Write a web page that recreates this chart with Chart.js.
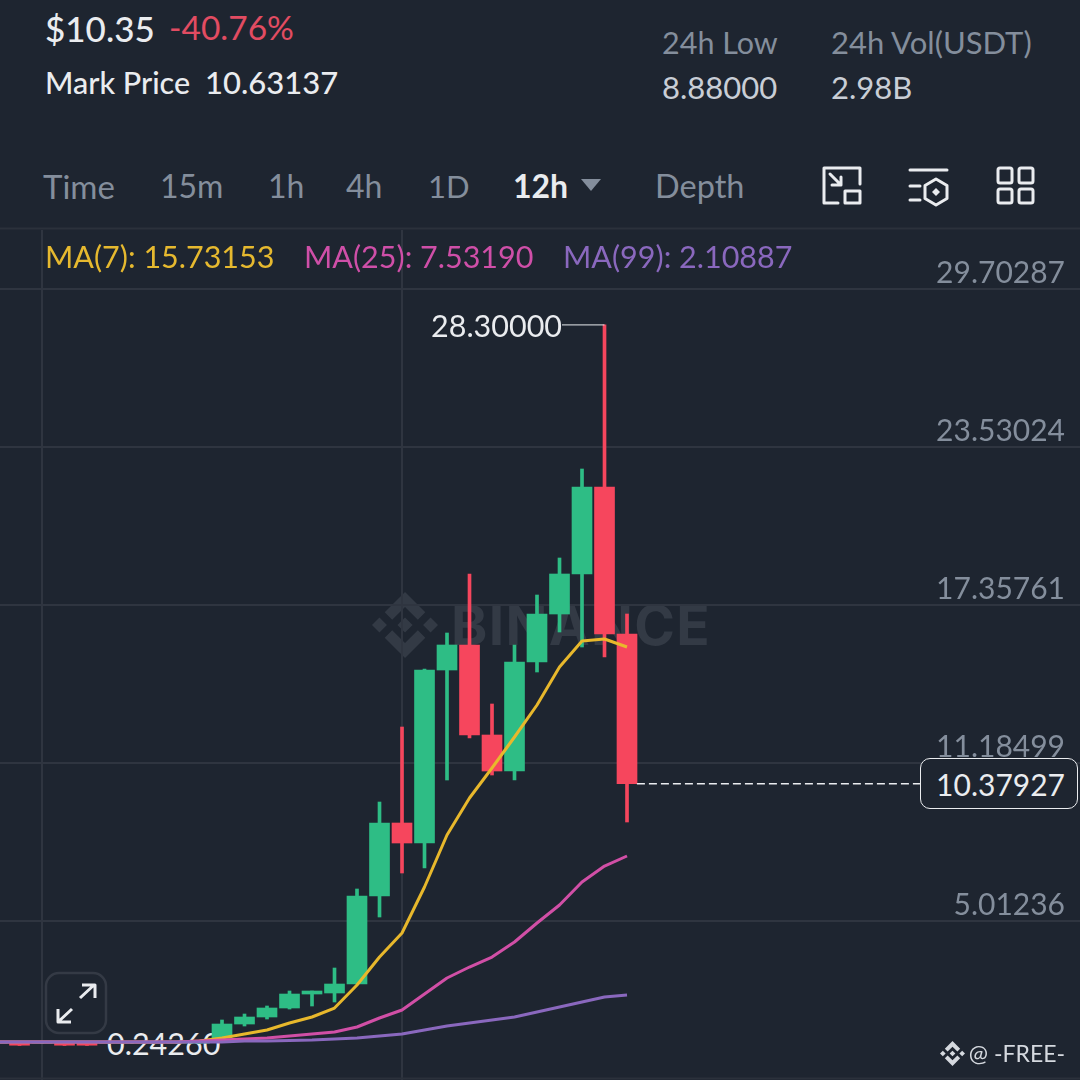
<!DOCTYPE html>
<html><head><meta charset="utf-8">
<script src="https://cdn.jsdelivr.net/npm/chart.js@4"></script>
<style>
html,body{margin:0;padding:0;background:#1E2530;width:1080px;height:1080px;overflow:hidden;font-family:Lato,sans-serif}
.t{position:absolute;white-space:nowrap;transform:translateY(-50%);line-height:1}
svg{position:absolute;overflow:visible}
#wrap{position:absolute;left:0;top:230px;width:1080px;height:850px}
</style></head><body>
<div class="t" style="left:45px;top:28px;font-size:35px;font-weight:500;color:#EAECEF">$10.35</div>
<div class="t" style="left:169px;top:28px;font-size:33.500px;color:#E24C62">-40.76%</div>
<div class="t" style="left:45px;top:82px;font-size:30.500px;font-weight:500;color:#EAECEF">Mark Price</div>
<div class="t" style="left:205px;top:82px;font-size:31px;font-weight:500;color:#EAECEF">10.63137</div>
<div class="t" style="left:662px;top:42px;font-size:30.500px;color:#848E9C">24h Low</div>
<div class="t" style="left:662px;top:87px;font-size:31px;color:#C9CED6">8.88000</div>
<div class="t" style="left:831px;top:42px;font-size:31px;color:#848E9C">24h Vol(USDT)</div>
<div class="t" style="left:831px;top:87px;font-size:31px;color:#C9CED6">2.98B</div>
<div class="t" style="left:43px;top:186px;font-size:33px;color:#848E9C">Time</div>
<div class="t" style="left:160px;top:186px;font-size:32px;color:#848E9C">15m</div>
<div class="t" style="left:268px;top:186px;font-size:32px;color:#848E9C">1h</div>
<div class="t" style="left:346px;top:186px;font-size:32px;color:#848E9C">4h</div>
<div class="t" style="left:428px;top:186px;font-size:31px;color:#848E9C">1D</div>
<div class="t" style="left:513px;top:186px;font-size:32px;font-weight:700;color:#EAECEF">12h</div>
<svg style="left:0;top:0" width="1080" height="230"><path d="M581 179h20l-10 12z" fill="#848E9C"/>
<g fill="none" stroke="#EAECEF" stroke-width="3" stroke-linecap="round" stroke-linejoin="round">
<path d="M860 184V168H824V203H838"/><rect x="845" y="191" width="15" height="12"/><path d="M830 174L841 185M841 177V185H832"/>
<path d="M910 170H947M910 186H920M910 200H920"/><path d="M936 179L947 185.500V198.500L936 205L925 198.500V185.500Z"/>
<rect x="998" y="168" width="14" height="15" rx="2"/><rect x="1019" y="168" width="14" height="15" rx="2"/><rect x="998" y="189" width="14" height="14" rx="2"/><rect x="1019" y="189" width="14" height="14" rx="2"/>
</g><path d="M936 188L940 192L936 196L932 192Z" fill="#EAECEF"/></svg>
<div class="t" style="left:655px;top:186px;font-size:32.500px;color:#848E9C">Depth</div>
<svg style="left:372px;top:592px" width="66" height="66" viewBox="0 0 126.610 126.610"><path fill="#333A45" d="M38.730 53.200l24.590-24.580 24.600 24.600 14.300-14.310L63.320 0 24.430 38.900l14.300 14.300zM0 63.310l14.300-14.310 14.310 14.310-14.310 14.300zM38.730 73.410l24.590 24.590 24.600-24.600 14.310 14.290-38.900 38.910-38.910-38.880-.02-.02zM98 63.310l14.300-14.310 14.310 14.300-14.310 14.320zM77.830 63.300L63.320 48.780 52.590 59.510l-1.240 1.230-2.540 2.540 14.510 14.500 14.510-14.470z"/></svg>
<div class="t" style="left:451px;top:625px;font-family:Inter;font-size:55px;font-weight:700;letter-spacing:1.300px;color:#333A45">BINANCE</div>
<div class="t" style="left:107px;top:1043px;font-size:30.500px;color:#EAECEF">0.24260</div>
<div id="wrap"><canvas id="c" width="1080" height="850"></canvas></div>
<div class="t" style="left:45px;top:256px;font-size:30.500px;color:#E6B92F">MA(7): 15.73153</div>
<div class="t" style="left:304px;top:256px;font-size:30.500px;color:#CF4FA8">MA(25): 7.53190</div>
<div class="t" style="left:563px;top:256px;font-size:30.500px;color:#8A68BE">MA(99): 2.10887</div>
<div class="t" style="left:431px;top:325px;font-size:30.500px;color:#EAECEF">28.30000</div>
<div style="position:absolute;left:920px;top:758px;width:156px;height:49px;border:1.500px solid #EAECEF;border-radius:10px;background:#1E2530"></div>
<div class="t" style="right:15px;top:784px;font-size:30px;color:#EAECEF">10.37927</div>
<svg style="left:45px;top:972px" width="62" height="62"><rect x="1" y="1" width="60" height="60" rx="13" fill="#1E2530" stroke="#343A45" stroke-width="2.500"/><g fill="none" stroke="#EAECEF" stroke-width="3" stroke-linejoin="round"><path d="M35 26L49 13M37 13H50V26M13 50L27 37M13 37V50H26"/></g></svg>
<svg style="left:940px;top:1041px" width="25" height="25" viewBox="0 0 126.610 126.610"><path fill="#D5D9DF" d="M38.730 53.200l24.590-24.580 24.600 24.600 14.300-14.310L63.320 0 24.430 38.900l14.300 14.300zM0 63.310l14.300-14.310 14.310 14.310-14.310 14.300zM38.730 73.410l24.590 24.590 24.600-24.600 14.310 14.290-38.900 38.910-38.910-38.880-.02-.02zM98 63.310l14.300-14.310 14.310 14.300-14.310 14.320zM77.830 63.300L63.320 48.780 52.590 59.510l-1.240 1.230-2.540 2.540 14.510 14.500 14.510-14.470z"/></svg>
<div class="t" style="right:15px;top:1053px;font-size:23px;color:#D5D9DF">@ -FREE-</div>
<svg style="left:0;top:0" width="1080" height="1080"><path d="M0 228.500H1080" stroke="#2B313B" stroke-width="2"/><path d="M0 1078.500H1080" stroke="#2B313B" stroke-width="2"/></svg>
<script>
const candleIndex = [0,1,2,3,4,5,6,7,8,9,10,11,12,13,14,15,16,17,18,19,20,21,22,23,24,25,26,27,28];
const opens  = [.24,.27,.24,.27,.27,.24,.24,.24,.24,.24,.441,.988,1.262,1.614,2.160,2.200,2.551,5.989,8.841,8.060,14.818,15.795,12.279,10.872,15.131,17.006,18.569,21.968,16.225];
const closes = [.28,.16,.28,.16,.16,.28,.28,.28,.28,.30,.988,1.262,1.614,2.160,2.278,2.551,5.989,8.841,8.060,14.818,15.795,12.279,10.872,15.131,17.006,18.569,21.968,16.225,10.38];
const highs  = [.30,.29,.30,.29,.29,.30,.30,.30,.30,.32,1.145,1.379,1.692,2.278,2.278,3.176,6.263,9.661,12.591,14.857,16.264,18.569,13.490,15.795,17.748,19.194,22.671,28.30,17.006];
const lows   = [.22,.15,.22,.15,.15,.22,.22,.22,.22,.22,.363,.910,1.184,1.574,1.692,1.848,2.551,5.169,6.888,7.083,10.521,12.162,10.716,10.521,14.740,16.303,15.717,15.326,8.88];
const ma7  = [.285,.285,.285,.285,.285,.285,.285,.285,.285,.324,.441,.598,.754,1.027,1.262,1.613,2.512,3.606,4.544,6.341,8.373,9.818,10.990,12.201,13.451,14.935,15.951,16.029,15.717];
const ma25 = [.285,.285,.285,.285,.285,.285,.285,.285,.285,.324,.363,.402,.441,.520,.598,.676,.871,1.223,1.535,2.160,2.785,3.215,3.606,4.192,4.934,5.637,6.536,7.161,7.552];
const ma99 = [.285,.285,.285,.285,.285,.285,.285,.285,.285,.285,.285,.324,.324,.344,.363,.402,.441,.520,.598,.754,.910,1.027,1.145,1.262,1.457,1.652,1.848,2.043,2.121];
const priceTicks = [29.70287,23.53024,17.35761,11.18499,5.01236];
const timeTicks = [2,18];
const highValue = 28.30;
const highLeader = [25.11,27];
const lastValue = 10.37927;
const lastLeader = [28.44,41.02];

const GREEN='#2EBD85', RED='#F6465D', GRID='#2F3540';
const colors = opens.map((o,i)=>closes[i]>=o?GREEN:RED);
const pts = arr => arr.map((v,i)=>({x:candleIndex[i],y:v}));
const bar = (data,thick,order)=>({type:'bar',data,backgroundColor:colors,barThickness:thick,grouped:false,borderWidth:0,borderSkipped:false,minBarLength:1,order});
const line = (arr,color,order)=>({type:'line',data:pts(arr),borderColor:color,borderWidth:3,pointRadius:0,tension:0,order,borderJoinStyle:'round'});
const noMargins = s=>{s.paddingLeft=s.paddingRight=s.paddingTop=s.paddingBottom=0;};
new Chart(document.getElementById('c'),{
  type:'bar',
  data:{datasets:[
    bar(candleIndex.map((x,i)=>({x,y:[lows[i],highs[i]]})),3,5),
    bar(candleIndex.map((x,i)=>({x,y:[opens[i],closes[i]]})),20,4),
    line(ma7,'#E8B82C',3),
    line(ma25,'#D14FA6',2),
    line(ma99,'#8A68BE',1),
    {type:'line',data:highLeader.map(x=>({x,y:highValue})),borderColor:'#EAECEF',borderWidth:1,pointRadius:0,order:0},
    {type:'line',data:lastLeader.map(x=>({x,y:lastValue})),borderColor:'#EAECEF',borderWidth:1.5,borderDash:[8,4],pointRadius:0,order:0}
  ]},
  options:{
    responsive:false,animation:false,devicePixelRatio:1,
    layout:{padding:0},
    plugins:{legend:{display:false},tooltip:{enabled:false}},
    scales:{
      x:{type:'linear',offset:false,min:0.133,max:48.133,
        afterBuildTicks:s=>{s.ticks=timeTicks.map(v=>({value:v}));},
        afterFit:s=>{s.height=0;noMargins(s);},
        grid:{color:GRID,lineWidth:2,drawTicks:false,offset:false},border:{display:false},ticks:{display:false}},
      y:{type:'linear',position:'right',min:-1.199,max:32.008,
        afterBuildTicks:s=>{s.ticks=priceTicks.map(v=>({value:v}));},
        afterFit:s=>{s.width=0;noMargins(s);},
        grid:{color:GRID,lineWidth:2,drawTicks:false},border:{display:false},
        ticks:{mirror:true,padding:-15,labelOffset:-16,autoSkip:false,color:'#848E9C',font:{family:'Lato',size:30},callback:v=>Number(v).toFixed(5)}}
    }
  }
});
</script>
</body></html>
